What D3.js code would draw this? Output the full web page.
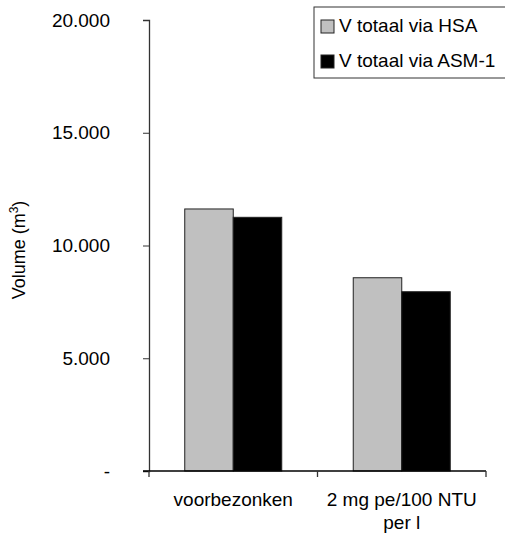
<!DOCTYPE html>
<html>
<head>
<meta charset="utf-8">
<script src="https://cdn.jsdelivr.net/npm/d3@7"></script>
<style>
  html, body { margin: 0; padding: 0; background: #fff; }
  svg text { font-family: "Liberation Sans", Arial, sans-serif; fill: #000; }
</style>
</head>
<body>
<svg id="chart" width="505" height="541"></svg>
<script>
// Categories, series and values
const categories = ["voorbezonken", "2 mg pe/100 NTU per l"];
const categoryLines = [["voorbezonken"], ["2 mg pe/100 NTU", "per l"]];
const seriesNames = ["V totaal via HSA", "V totaal via ASM-1"];
const hsaValues = [11620, 8570];
const asmValues = [11250, 7950];
const yTicks = [0, 5000, 10000, 15000, 20000];
const seriesColors = ["#c0c0c0", "#000000"];

const svg = d3.select("#chart");
const fontSize = 19;

const plotLeft = 149, plotRight = 486, plotTop = 20, plotBottom = 471;

const x = d3.scaleBand().domain(categories).range([plotLeft, plotRight]).paddingInner(0).paddingOuter(0);
const xInner = d3.scaleBand().domain(seriesNames).range([0, x.bandwidth()]).paddingInner(0).paddingOuter(0.737);
const y = d3.scaleLinear().domain([0, 20000]).range([plotBottom, plotTop]);

const fmt = v => v === 0 ? "-" : d3.format(",")(v).replace(/,/g, ".");

// Bars
const rows = categories.map((c, i) => ({ cat: c, vals: [hsaValues[i], asmValues[i]] }));
const groups = svg.append("g").selectAll("g").data(rows).join("g")
  .attr("transform", d => `translate(${x(d.cat)},0)`);
groups.selectAll("rect")
  .data(d => d.vals.map((v, j) => ({ name: seriesNames[j], v, j })))
  .join("rect")
  .attr("x", d => xInner(d.name))
  .attr("width", xInner.bandwidth())
  .attr("y", d => y(d.v))
  .attr("height", d => plotBottom - y(d.v))
  .attr("fill", d => seriesColors[d.j])
  .attr("stroke", "#222")
  .attr("stroke-width", 1);

// Y axis
const yAxis = d3.axisLeft(y).tickValues(yTicks).tickFormat(fmt).tickSize(6).tickPadding(33);
const gy = svg.append("g").attr("transform", `translate(${plotLeft},0)`).call(yAxis);
gy.select(".domain").attr("stroke", "#333").attr("stroke-width", 1.3);
gy.selectAll(".tick line").attr("stroke", "#333");
gy.selectAll(".tick text").style("font-size", fontSize + "px").attr("font-family", "Liberation Sans, Arial, sans-serif");

// X axis: baseline and category separators
const gx = svg.append("g");
gx.append("line").attr("x1", plotLeft - 6).attr("x2", plotRight).attr("y1", plotBottom).attr("y2", plotBottom)
  .attr("stroke", "#000").attr("stroke-width", 1.3);
const sepX = [plotLeft, ...categories.map(c => x(c) + x.bandwidth())];
gx.selectAll("line.sep").data(sepX).join("line").attr("class", "sep")
  .attr("x1", d => d).attr("x2", d => d).attr("y1", plotBottom).attr("y2", plotBottom + 6)
  .attr("stroke", "#333").attr("stroke-width", 1.3);
gx.selectAll("text.cat").data(categories).join("text").attr("class", "cat")
  .attr("text-anchor", "middle")
  .style("font-size", fontSize + "px")
  .attr("x", d => x(d) + x.bandwidth() / 2)
  .each(function(d, i) {
    d3.select(this).selectAll("tspan").data(categoryLines[i]).join("tspan")
      .attr("x", x(d) + x.bandwidth() / 2)
      .attr("y", (t, k) => 506 + k * 23)
      .text(t => t);
  });

// Y axis title
const title = svg.append("text")
  .attr("transform", "translate(25,250) rotate(-90)")
  .attr("text-anchor", "middle")
  .style("font-size", "18px");
title.append("tspan").text("Volume (m");
title.append("tspan").attr("dy", -7).style("font-size", "12px").text("3");
title.append("tspan").attr("dy", 7).text(")");

// Legend
const lg = svg.append("g");
lg.append("rect").attr("x", 314).attr("y", 7).attr("width", 200).attr("height", 71)
  .attr("fill", "#fff").attr("stroke", "#333").attr("stroke-width", 1);
const items = lg.selectAll("g.item").data(seriesNames).join("g").attr("class", "item")
  .attr("transform", (d, i) => `translate(321,${20 + i * 35})`);
items.append("rect").attr("width", 13).attr("height", 13)
  .attr("fill", (d, i) => seriesColors[i]).attr("stroke", "#222");
items.append("text").attr("x", 18).attr("y", 12).style("font-size", fontSize + "px").text(d => d);
</script>
</body>
</html>
